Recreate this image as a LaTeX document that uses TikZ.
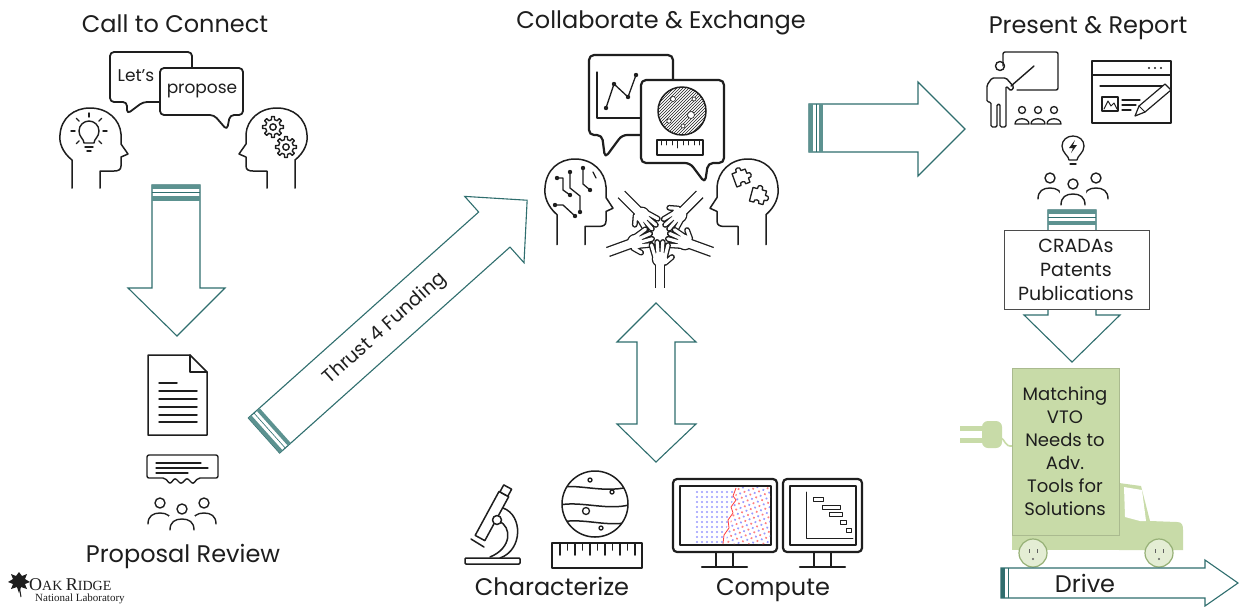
\documentclass[tikz,border=0pt]{standalone}
\usepackage{fontspec}
\setmainfont{Poppins}
\newfontfamily\logofont{Liberation Serif}
\usetikzlibrary{patterns}

\definecolor{arrowteal}{RGB}{47,110,110}
\definecolor{bandteal}{RGB}{92,146,144}
\definecolor{truckgreen}{RGB}{200,219,168}
\definecolor{wheelgreen}{RGB}{228,237,212}
\definecolor{wheelrim}{RGB}{150,176,118}
\definecolor{ink}{RGB}{30,30,30}

\tikzset{
  blockarrow/.style={draw=arrowteal, line width=1.1pt, fill=white, line join=miter},
  icon/.style={draw=ink, line width=1.5pt, line cap=round, line join=round},
  thin icon/.style={draw=ink, line width=1.1pt, line cap=round, line join=round},
  bold icon/.style={draw=ink, line width=2.2pt, line cap=round, line join=round},
  titletext/.style={font=\fontsize{24}{28}\selectfont, text=ink, inner sep=0pt},
  boxtext/.style={font=\fontsize{19}{24}\selectfont, text=ink, align=center, inner sep=0pt},
  % head in profile, facing right, 68 x 80 box
  headprofile/.pic={
    \draw[icon] (12,80) -- (12,52) .. controls (2,44) and (-1,34) .. (0,27)
      .. controls (1,10) and (14,0) .. (30,0) .. controls (48,0) and (60,12) .. (61,26)
      -- (61,36) -- (68,46) -- (61,49) -- (61,58) .. controls (61,62) and (58,63) .. (54,63)
      -- (40,63) -- (40,80);
  },
  gearwheel/.pic={
    \draw[thin icon, line width=1.4pt] (-12:7.5) \foreach \a in {0,45,...,315} {
      -- ({\a-12}:7.5) -- ({\a-8}:10.5) -- ({\a+8}:10.5) -- ({\a+12}:7.5) } -- cycle;
    \draw[thin icon, line width=1.4pt] (0,0) circle (3.2);
  },
  % open hand pointing along +x: dark pass for the outline, white pass for the inside
  hand/.pic={
    \draw[ink, line width=10.6pt, line cap=butt] (-32,0) -- (-8,0);
    \fill[ink] (-3,0) circle (8.3);
    \draw[ink, line width=5.8pt, line cap=round] (-1,-5) -- (11,-8.5) (0,-1.8) -- (14,-2.8)
      (0,1.8) -- (14,2.8) (-1,5) -- (11,8) (-7,5) -- (-1,12);
    \draw[white, line width=8pt, line cap=butt] (-33,0) -- (-8,0);
    \fill[white] (-3,0) circle (7);
    \draw[white, line width=3.2pt, line cap=round] (-1,-5) -- (11,-8.5) (0,-1.8) -- (14,-2.8)
      (0,1.8) -- (14,2.8) (-1,5) -- (11,8) (-7,5) -- (-1,12);
  },
  puzzle/.pic={
    \draw[thin icon, line width=1.3pt] (-7,-7) -- (-2.5,-7) .. controls (-4,-12) and (4,-12) .. (2.5,-7)
      -- (7,-7) -- (7,-2.5) .. controls (12,-4) and (12,4) .. (7,2.5) -- (7,7) -- (2.5,7)
      .. controls (4,3) and (-4,3) .. (-2.5,7) -- (-7,7) -- cycle;
  },
  person/.pic={
    \draw[thin icon, line width=1.4pt] (0,0) circle (5);
    \draw[thin icon, line width=1.4pt] (-12,21) .. controls (-12,13) and (-7,10) .. (0,10)
      .. controls (7,10) and (12,13) .. (12,21);
  }
}

\begin{document}
\begin{tikzpicture}[x=1pt,y=-1pt]
\useasboundingbox (0,0) rectangle (1241,606);
\fill[white] (0,0) rectangle (1241,606);

% ================= block arrows =================
% Call to Connect -> Proposal Review
\draw[blockarrow] (152,185) -- (200,185) -- (200,288) -- (225,288) -- (177,336) -- (128,288) -- (152,288) -- cycle;
\fill[bandteal] (152,185) rectangle (200,189);
\draw[arrowteal, line width=0.6pt] (152,192.5) -- (200,192.5);
\fill[bandteal] (152,196) rectangle (200,200.5);

% Thrust 4 Funding
\begin{scope}[shift={(264,435.5)}, rotate=41.8]
  \draw[blockarrow] (0,-23.5) -- (309,-23.5) -- (309,-44.5) -- (353,0) -- (309,44.5) -- (309,23.5) -- (0,23.5) -- cycle;
  \fill[bandteal] (0,-23.5) rectangle (4,23.5);
  \draw[arrowteal, line width=0.6pt] (7.5,-23.5) -- (7.5,23.5);
  \fill[bandteal] (11,-23.5) rectangle (15,23.5);
\end{scope}
\node[font=\fontsize{19}{22}\selectfont, text=ink, rotate=41.8] (thrust) at (385,329) {Thrust 4 Funding};

% Collaborate -> Present
\draw[blockarrow] (809,104) -- (918,104) -- (918,82) -- (965,129) -- (918,176) -- (918,152) -- (809,152) -- cycle;
\fill[bandteal] (809,104) rectangle (813,152);
\draw[arrowteal, line width=0.6pt] (816,104) -- (816,152);
\fill[bandteal] (819,104) rectangle (823,152);

% Collaborate <-> Characterize / Compute
\draw[blockarrow] (656,303) -- (696,342) -- (675,342) -- (675,424) -- (696,424) -- (656,462)
  -- (617,424) -- (637,424) -- (637,342) -- (617,342) -- cycle;

% Present -> Matching
\draw[blockarrow] (1048,210) -- (1096,210) -- (1096,315) -- (1120,315) -- (1072,362) -- (1024,315) -- (1048,315) -- cycle;
\fill[bandteal] (1048,210) rectangle (1096,214);
\draw[arrowteal, line width=0.6pt] (1048,217.5) -- (1096,217.5);
\fill[bandteal] (1048,221) rectangle (1096,225);

% ================= titles =================
\node[titletext, anchor=base] (callconnect) at (175,32) {Call to Connect};
\node[titletext, anchor=base] (collab) at (661,28) {Collaborate \& Exchange};
\node[titletext, anchor=base] (present) at (1088,33) {Present \& Report};
\node[titletext, anchor=base] (review) at (183,562) {Proposal Review};
\node[titletext, anchor=base] (characterize) at (552,595) {Characterize};
\node[titletext, anchor=base] (compute) at (773,595) {Compute};

% ================= Call to Connect icons =================
\pic at (60,108) {headprofile};
\pic[xscale=-1] at (307,108) {headprofile};
% light bulb
\draw[thin icon, line width=1.4pt] (84,143) .. controls (84,139) and (79,137) .. (79,131)
  .. controls (79,125) and (84,121) .. (89,121) .. controls (94,121) and (99,125) .. (99,131)
  .. controls (99,137) and (94,139) .. (94,143) -- cycle;
\draw[thin icon, line width=1.4pt] (85,147) -- (93,147);
\draw[thin icon, line width=1.4pt] (87,151) -- (91,151);
\foreach \a in {0,-45,-90,-135,180,45,135}
  \draw[thin icon, line width=1.4pt] ([shift={(\a:14)}]89,131) -- ([shift={(\a:18)}]89,131);
% gears
\pic at (273,127) {gearwheel};
\pic at (286,147) {gearwheel};
% speech bubbles
\draw[icon, line width=1.8pt, fill=white, rounded corners=4] (110,52) -- (192,52) -- (192,102) -- (143,102)
  -- (127,114) -- (127,102) -- (110,102) -- cycle;
\node[font=\fontsize{17}{19}\selectfont, text=ink, inner sep=0pt] (lets) at (136,76) {Let's};
\draw[icon, line width=1.8pt, fill=white, rounded corners=4] (160,68) -- (243,68) -- (243,115) -- (230,115)
  -- (227,130) -- (214,115) -- (160,115) -- cycle;
\node[font=\fontsize{17}{19}\selectfont, text=ink, inner sep=0pt] (propose) at (202,91) {propose};

% ================= Proposal Review icons =================
\draw[icon] (148,355) -- (190,355) -- (207,372) -- (207,435) -- (148,435) -- cycle;
\draw[icon] (190,355) -- (190,372) -- (207,372);
\draw[icon] (159,383) -- (177,383);
\foreach \yy in {391,399,407,415,422} \draw[icon] (159,\yy) -- (197,\yy);
\draw[thin icon, line width=1.4pt, rounded corners=2] (147,455) -- (218,455) -- (218,478) -- (198,478) -- (193,484)
  -- (187,478) -- (181,484) -- (175,478) -- (170,484) -- (165,478) -- (147,478) -- cycle;
\draw[thin icon] (156,463) -- (201,463);
\draw[thin icon] (156,468) -- (208,468);
\draw[thin icon] (156,473) -- (188,473);
\pic at (160,503) {person};
\pic at (204,503) {person};
\draw[white, fill=white] (182,508) circle (5) (169,531) rectangle (195,516);
\pic at (182,509) {person};

% ================= Collaborate & Exchange icons =================
% chart bubble
\draw[bold icon, fill=white, rounded corners=5] (589,55) -- (673,55) -- (673,135) -- (622,135)
  -- (605,158) -- (602,135) -- (589,135) -- cycle;
\draw[thin icon, line width=1.3pt] (597,72) -- (597,118) -- (645,118);
\draw[thin icon, line width=1.3pt] (606,108) -- (614,84) -- (628,97) -- (636,75);
\foreach \p in {(606,108),(614,84),(628,97),(636,75)} \fill[ink] \p circle (2.2);
% microstructure bubble
\draw[bold icon, fill=white, rounded corners=5] (641,80) -- (724,80) -- (724,163) -- (708,163)
  -- (705,183) -- (690,163) -- (641,163) -- cycle;
\fill[pattern=north east lines, pattern color=ink] (682,111) circle (24);
\draw[icon] (682,111) circle (24);
\fill[white, draw=ink, line width=0.6pt] (673,99) circle (2.5);
\fill[white, draw=ink, line width=0.6pt] (694,99) circle (2);
\fill[white, draw=ink, line width=0.6pt] (669,121) circle (2.2);
\fill[white, draw=ink, line width=0.6pt] (691,115) circle (3.5);
\fill[white, draw=ink, line width=0.6pt] (683,126) circle (2);
\draw[thin icon] (657,140) rectangle (703,155);
\foreach \i in {0,...,7} \draw[thin icon, line width=0.8pt] ({661+\i*5.5},140) -- ({661+\i*5.5},{\i==3 ? 148 : 145});
% heads
\pic[yscale=1.07] at (545,159) {headprofile};
\pic[xscale=-1, yscale=1.07] at (778,159) {headprofile};
% circuit lines
\draw[thin icon, line width=1.3pt] (557,178) -- (563,178) -- (563,190) -- (570,195);
\draw[thin icon, line width=1.3pt] (570,172) -- (570,188) -- (580,196) -- (580,212);
\draw[thin icon, line width=1.3pt] (583,168) -- (583,184) -- (590,190);
\draw[thin icon, line width=1.3pt] (555,205) -- (563,205) -- (575,216);
\draw[thin icon, line width=1.3pt] (593,172) -- (596,178);
\foreach \p in {(557,178),(570,172),(580,212),(583,168),(590,190),(555,205),(575,216),(570,195)}
  \fill[ink] \p circle (2.2);
% puzzle pieces
\pic[rotate=20] at (741,178) {puzzle};
\pic[rotate=-15] at (758,196) {puzzle};
% circle of hands
\pic[rotate=-45] at (644,217) {hand};
\pic[rotate=225] at (677,217) {hand};
\pic[rotate=20] at (638,241) {hand};
\pic[rotate=160] at (682,241) {hand};
\pic[rotate=90] at (660,256) {hand};

% ================= Characterize icons =================
% microscope
\draw[icon, rounded corners=1] (465,558) rectangle (520,564);
\draw[icon] (503,508) .. controls (523,515) and (523,550) .. (500,558);
\draw[icon] (499,521) .. controls (512,527) and (512,548) .. (490,557);
\begin{scope}[shift={(480,538)}, rotate=61.5]
  \draw[icon, fill=white] (0,-5.5) rectangle (50,5.5);
  \draw[icon, fill=white] (50,-4.5) rectangle (58,4.5);
\end{scope}
\draw[icon, fill=white] (497,520) circle (4.5);
\draw[icon] (471,539) -- (484,547);
% sphere on ruler
\begin{scope}
  \clip (595,504) circle (33);
  \draw[icon] (555,489) .. controls (575,481) and (605,496) .. (635,485);
  \draw[icon] (555,506) .. controls (580,499) and (610,513) .. (635,503);
  \draw[icon] (555,523) .. controls (585,516) and (605,529) .. (635,521);
\end{scope}
\draw[icon] (595,504) circle (33);
\draw[thin icon, line width=1.3pt] (590,480) circle (2);
\draw[thin icon, line width=1.3pt] (612,492) circle (2);
\draw[thin icon, line width=1.3pt] (586,511) circle (3.5);
\draw[thin icon, line width=1.3pt] (601,528) circle (2);
\draw[icon] (552,543) rectangle (642,568);
\foreach \i in {0,...,10} \draw[icon] ({560+\i*7.5},543) -- ({560+\i*7.5},{mod(\i,2)==0 ? 555 : 550});

% ================= Compute icons =================
\draw[bold icon, rounded corners=4] (673,479) rectangle (777,552);
\draw[thin icon, line width=1.3pt] (680,486) rectangle (771,545);
\draw[icon] (716,552) -- (716,566) (733,552) -- (733,566);
\draw[bold icon] (702,567) -- (747,567);
\begin{scope}
  \clip (690,487) -- (735,487) -- (729,520) -- (722,545) -- (690,545) -- cycle;
  \foreach \i in {0,...,7} \foreach \j in {0,...,10}
    \fill[blue!40] ({697+\i*5},{492+\j*5}) circle (1.2);
\end{scope}
\begin{scope}
  \clip (737,487) -- (770,487) -- (770,544) -- (725,544) -- (731,520) -- cycle;
  \begin{scope}[shift={(748,515)}, rotate=20]
    \foreach \i in {-6,...,6} \foreach \j in {-8,...,8} {
      \pgfmathtruncatemacro\k{mod(abs(\i+\j),2)}
      \ifnum\k=0 \fill[red!50] (\i*4.6,\j*4.6) circle (1.2); \else \fill[blue!40] (\i*4.6,\j*4.6) circle (1.2); \fi
    }
  \end{scope}
\end{scope}
\draw[red!75, line width=0.8pt] (736,488) -- (733,496) -- (736,500) -- (731,507) -- (733,513) -- (728,520)
  -- (729,528) -- (724,535) -- (723,544);
\draw[bold icon, rounded corners=4] (783,479) rectangle (862,552);
\draw[thin icon, line width=1.3pt] (790,486) rectangle (856,545);
\draw[icon] (814,552) -- (814,566) (831,552) -- (831,566);
\draw[bold icon] (800,567) -- (845,567);
\draw[thin icon, line width=0.9pt] (806,492) -- (806,538) -- (853,538);
\draw[thin icon, line width=0.9pt] (813,497) rectangle (823,501);
\draw[thin icon, line width=0.9pt] (822,505) rectangle (840,509);
\draw[thin icon, line width=0.9pt] (829,512) rectangle (842,516);
\draw[thin icon, line width=0.9pt] (840,520) rectangle (846,524);
\draw[thin icon, line width=0.9pt] (846,528) rectangle (851,532);

% ================= Present & Report icons =================
\draw[thin icon, line width=1.4pt, rounded corners=2] (1003,66) -- (1003,52) -- (1058,52) -- (1058,90) -- (1017,90);
\draw[thin icon, line width=1.4pt] (1000,66) circle (4.5);
\draw[thin icon, line width=1.4pt, rounded corners=1.5] (987,102) -- (987,85) -- (992,78) -- (1006,78) -- (1014,87)
  -- (1011,91) -- (1006,86) -- (1006,127) -- (1000,127) -- (1000,104) -- (997,104) -- (997,127)
  -- (991,127) -- (991,102) -- cycle;
\draw[thin icon, line width=1.4pt] (1011,86) -- (1034,66);
\foreach \x in {1022,1038,1054} {
  \draw[thin icon, line width=1.3pt] (\x,110) circle (3.5);
  \draw[thin icon, line width=1.3pt] ({\x-7},124) .. controls ({\x-7},117) and ({\x+7},117) .. ({\x+7},124) -- cycle;
}
\draw[thin icon, line width=1.4pt] (1092,61) rectangle (1171,123);
\draw[thin icon, line width=1.2pt] (1092,75) -- (1171,75);
\foreach \x in {1149,1155,1161} \fill[ink] (\x,68) circle (1.2);
\draw[thin icon, line width=1.2pt] (1100,86) -- (1164,86);
\draw[thin icon, line width=1.2pt] (1102,97) rectangle (1118,111);
\draw[thin icon, line width=1] (1104,109) -- (1108,101) -- (1111,106) -- (1114,103) -- (1117,109);
\draw[thin icon, line width=1.2pt] (1122,100) -- (1140,100);
\draw[thin icon, line width=1.2pt] (1122,105) -- (1136,105);
\draw[thin icon, line width=1.2pt] (1122,110) -- (1131,110);
\draw[thin icon, line width=1.2pt, fill=white] (1135,116) -- (1139,106) -- (1165,84) -- (1171,90) -- (1145,112) -- cycle;
\draw[thin icon, line width=1.0pt] (1139,106) -- (1145,112);
% light bulb over team
\draw[thin icon, line width=1.3pt] (1069,160) .. controls (1069,156) and (1062,153) .. (1062,146)
  .. controls (1062,140) and (1067,136) .. (1073,136) .. controls (1079,136) and (1084,140) .. (1084,146)
  .. controls (1084,153) and (1077,156) .. (1077,160) -- cycle;
\draw[thin icon, line width=1.3pt] (1070,164) -- (1076,164);
\fill[ink] (1075,140) -- (1069,148) -- (1073,148) -- (1071,153) -- (1077,145) -- (1073,145) -- cycle;
\pic at (1050,178) {person};
\pic at (1096,178) {person};
\draw[white, fill=white] (1073,183) circle (5) (1060,206) rectangle (1086,191);
\pic at (1073,184) {person};

% results box
\draw[draw=ink!80, line width=0.8pt, fill=white] (1004,230) rectangle (1149,309);
\node[boxtext] (results) at (1076,270) {CRADAs\\Patents\\Publications};

% ================= truck =================
\fill[truckgreen] (960,426) rectangle (985,431);
\fill[truckgreen] (960,438) rectangle (985,443);
\fill[truckgreen, rounded corners=6] (982,421) rectangle (1002,448);
\draw[truckgreen, line width=1.6pt] (1000,437) .. controls (1006,440) and (1004,447) .. (1013,446);
\fill[truckgreen] (1119,550) -- (1119,483) -- (1141,486) -- (1150,521) -- (1177,522)
  .. controls (1182,522) and (1183,525) .. (1183,530) -- (1183,550) -- cycle;
\fill[white] (1124,487) -- (1142,490) -- (1146,521) -- (1140,521) -- (1125,517) -- cycle;
\fill[truckgreen] (1012,530) rectangle (1130,550);
\draw[fill=truckgreen, draw=truckgreen!85!black, line width=0.5pt] (1012,368) rectangle (1119,535);
\node[font=\fontsize{18}{23}\selectfont, text=ink, align=center, inner sep=0pt] (matching) at (1065,451)
  {Matching\\VTO\\Needs to\\Adv.\\Tools for\\Solutions};
\foreach \x in {1033,1159} {
  \draw[fill=wheelgreen, draw=wheelrim, line width=1.2pt] (\x,553) circle (14);
  \draw[ink!70, line width=1pt] ({\x-4},549) -- ({\x-4},553) ({\x+4},549) -- ({\x+4},553);
  \fill[ink!70] (\x,559) circle (1.2);
}

% Drive arrow
\draw[blockarrow] (1001,568) -- (1205,568) -- (1205,560) -- (1238,583) -- (1205,606) -- (1205,598) -- (1001,598) -- cycle;
\fill[arrowteal] (1001,568) rectangle (1005,598);
\draw[arrowteal, line width=0.6pt] (1008,568) -- (1008,598);
\node[titletext, anchor=base] (drive) at (1085,592) {Drive};

% ================= lab logo =================
\fill[ink] (19,572) -- (22,576) -- (27,574) -- (25,579) -- (30,582) -- (25,584) -- (27,589) -- (21,587)
  -- (19,593) -- (17,587) -- (11,589) -- (13,584) -- (8,582) -- (13,579) -- (11,574) -- (16,576) -- cycle;
\draw[ink, line width=1pt] (19,585) -- (21,597);
\node[anchor=base west, inner sep=0pt, text=ink] (logo) at (29,590)
  {\logofont\fontsize{18}{18}\selectfont O\fontsize{14}{18}\selectfont AK \fontsize{18}{18}\selectfont R\fontsize{14}{18}\selectfont IDGE};
\node[anchor=base west, inner sep=0pt, text=ink] (loglab) at (35,601)
  {\logofont\fontsize{11}{12}\selectfont National Laboratory};
\end{tikzpicture}
\end{document}
